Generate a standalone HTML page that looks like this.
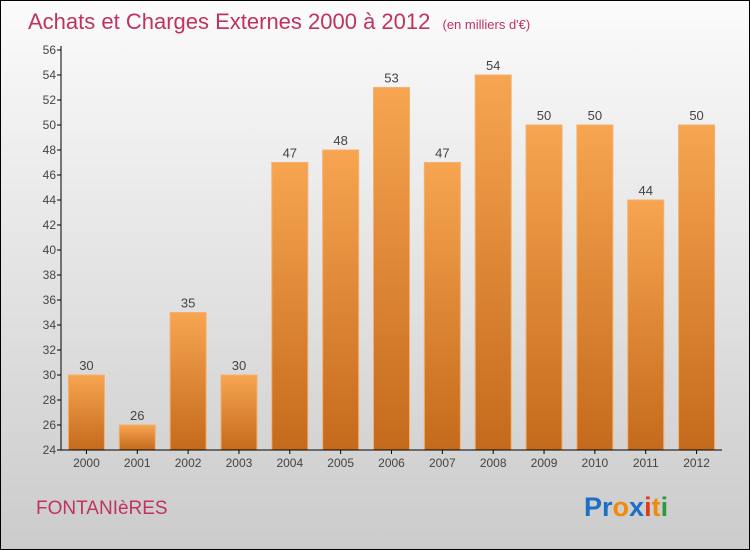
<!DOCTYPE html>
<html><head><meta charset="utf-8"><style>
body{margin:0;}
svg{display:block;font-family:"Liberation Sans",sans-serif;}
</style></head><body>
<svg id="c" width="750" height="550">
<defs>
<linearGradient id="bg" x1="0" y1="0" x2="0" y2="1"><stop offset="0" stop-color="#fbfbfb"/><stop offset="1" stop-color="#cbcbcb"/></linearGradient>
<linearGradient id="bar" x1="0" y1="0" x2="0" y2="1"><stop offset="0" stop-color="#f7a550"/><stop offset="1" stop-color="#c46a1c"/></linearGradient>
</defs>
<rect x="0.5" y="0.5" width="749" height="549" fill="url(#bg)" stroke="#000"/>
<text x="28" y="29" font-size="22" fill="#c0335e">Achats et Charges Externes 2000 à 2012 <tspan font-size="13" dx="6">(en milliers d'€)</tspan></text>
<g id="plot"></g>
<text x="36" y="514" font-size="19" fill="#c0335e">FONTANIèRES</text>
<text x="584" y="516" font-size="27" font-weight="bold"><tspan fill="#1b6fc9">Pr</tspan><tspan fill="#f08a0a">o</tspan><tspan fill="#1b6fc9">x</tspan><tspan fill="#e03a1a">i</tspan><tspan fill="#f08a0a">t</tspan><tspan fill="#2a9a3a">i</tspan></text>
</svg>
<script>
const categories=["2000","2001","2002","2003","2004","2005","2006","2007","2008","2009","2010","2011","2012"];
const values=[30,26,35,30,47,48,53,47,54,50,50,44,50];
const yTicks=[24,26,28,30,32,34,36,38,40,42,44,46,48,50,52,54,56];
const NS="http://www.w3.org/2000/svg";
const g=document.getElementById('plot');
const x0=61,x1=722,y0=450,y1=50,ymin=24,ymax=56;
const band=(x1-x0)/categories.length;
const y=v=>y0-(v-ymin)/(ymax-ymin)*(y0-y1);
const xc=i=>x0+band*(i+0.5);
function mk(t,a){const e=document.createElementNS(NS,t);for(const k in a)e.setAttribute(k,a[k]);g.appendChild(e);return e;}
yTicks.forEach(t=>{
 const l=mk('line',{x1:x0-4,x2:x0,y1:y(t),y2:y(t),stroke:'#000'});
 
 
 const tx=mk('text',{x:x0-5,y:y(t)+4,'font-size':12,fill:'#444','text-anchor':'end'});tx.textContent=t;
 
 
});
categories.forEach((c,i)=>{
 const v=values[i];
 const r=mk('rect',{x:xc(i)-18,y:y(v),width:36,height:y0-y(v),fill:'url(#bar)',stroke:'#f5b070','stroke-width':1});
 
 
 const vl=mk('text',{x:xc(i),y:y(v)-5,'font-size':13,fill:'#444','text-anchor':'middle'});vl.textContent=v;
 
 
 const tk=mk('line',{x1:xc(i),x2:xc(i),y1:y0,y2:y0+4,stroke:'#000'});
 
 
 const xl=mk('text',{x:xc(i),y:y0+17,'font-size':12,fill:'#444','text-anchor':'middle'});xl.textContent=c;
 
 
});
const ya=mk('line',{x1:x0,x2:x0,y1:y1-4,y2:y0,stroke:'#000'});


const xa=mk('line',{x1:x0,x2:x1,y1:y0,y2:y0,stroke:'#000'});


</script>
</body></html>
